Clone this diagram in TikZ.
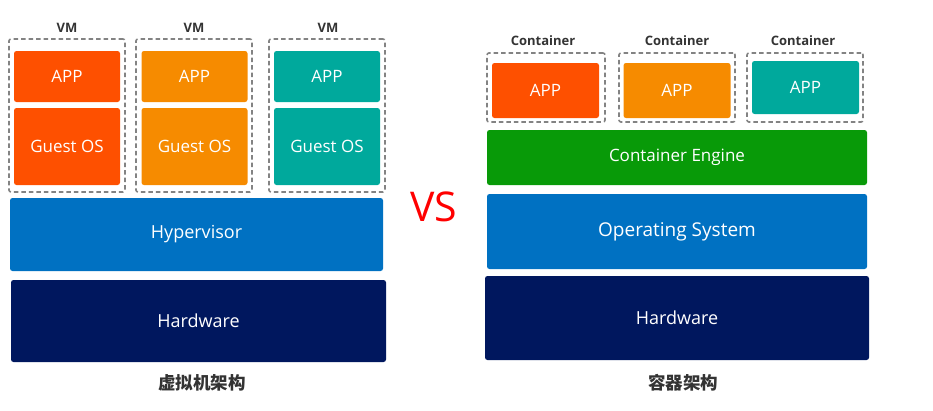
\documentclass[tikz,border=0pt]{standalone}
\usepackage{fontspec}
\setmainfont{Open Sans}
\newfontfamily\cjk{Noto Sans CJK SC}
\usetikzlibrary{positioning}

\definecolor{appred}{HTML}{FE5000}
\definecolor{apporange}{HTML}{F68B00}
\definecolor{appteal}{HTML}{00A99C}
\definecolor{layerblue}{HTML}{0071C2}
\definecolor{layernavy}{HTML}{00175E}
\definecolor{enginegreen}{HTML}{089A08}
\definecolor{dashgray}{HTML}{838383}
\definecolor{tagtext}{HTML}{333333}

\begin{document}
\begin{tikzpicture}[x=1pt,y=-1pt,
  block/.style={rounded corners=2.5pt,inner sep=0pt,text=white,
    font=\fontsize{17}{19}\selectfont},
  layer/.style={block,font=\fontsize{18}{20}\selectfont},
  holder/.style={draw=dashgray,line width=1.6pt,dash pattern=on 4.5pt off 3pt,
    rounded corners=2pt,inner sep=0pt},
  tag/.style={text=tagtext,font=\bfseries\fontsize{13}{15}\selectfont},
  caption/.style={text=tagtext,font=\cjk\bfseries\fontsize{17.5}{19}\selectfont}]
  \useasboundingbox (0,0) rectangle (933,410);

  % virtual machines
  \path
  node[holder,minimum width=116pt,minimum height=153pt] (vm1) at (67,115.5) {}
  node[holder,minimum width=116pt,minimum height=153pt] (vm2) at (194,115.5) {}
  node[holder,minimum width=116pt,minimum height=153pt] (vm3) at (327,115.5) {}
  node[tag] (vm1tag) at (67,28) {VM}
  node[tag] (vm2tag) at (194,28) {VM}
  node[tag] (vm3tag) at (328,28) {VM}
  node[block,fill=appred,minimum width=106pt,minimum height=51pt] (app1) at (67,76.5) {APP}
  node[block,fill=apporange,minimum width=106pt,minimum height=51pt] (app2) at (194.5,76.5) {APP}
  node[block,fill=appteal,minimum width=106pt,minimum height=51pt] (app3) at (327,76.5) {APP}
  node[block,fill=appred,minimum width=106pt,minimum height=77pt] (os1) at (67,146.5) {Guest OS}
  node[block,fill=apporange,minimum width=106pt,minimum height=77pt] (os2) at (194.5,146.5) {Guest OS}
  node[block,fill=appteal,minimum width=106pt,minimum height=77pt] (os3) at (327,146.5) {Guest OS}
  node[layer,fill=layerblue,minimum width=373pt,minimum height=73pt] (hyper) at (196.5,234.5) {Hypervisor}
  node[layer,fill=layernavy,minimum width=375pt,minimum height=82pt] (hwleft) at (198.5,321) {Hardware}
  node[caption] (vmcap) at (202,383) {虚拟机架构}
  ;

  \node[text=red,font=\fontsize{41}{43}\selectfont] (vs) at (434,207) {VS};

  % containers
  \path
  node[holder,minimum width=118pt,minimum height=69pt] (ct1) at (546,87.5) {}
  node[holder,minimum width=116pt,minimum height=69pt] (ct2) at (677,87.5) {}
  node[holder,minimum width=116pt,minimum height=69pt] (ct3) at (805,87.5) {}
  node[tag] (ct1tag) at (543,41) {Container}
  node[tag] (ct2tag) at (677,41) {Container}
  node[tag] (ct3tag) at (803,41) {Container}
  node[block,fill=appred,minimum width=107pt,minimum height=55pt] (capp1) at (545.5,90.5) {APP}
  node[block,fill=apporange,minimum width=107pt,minimum height=55pt] (capp2) at (677,90.5) {APP}
  node[block,fill=appteal,minimum width=107pt,minimum height=53pt] (capp3) at (805.5,87.5) {APP}
  node[block,fill=enginegreen,minimum width=380pt,minimum height=55pt] (engine) at (677,157.5) {Container Engine}
  node[layer,fill=layerblue,minimum width=380pt,minimum height=75pt,
    font=\fontsize{19}{21}\selectfont] (hostos) at (677,231.5) {Operating System}
  node[layer,fill=layernavy,minimum width=384pt,minimum height=84pt] (hwright) at (677,318) {Hardware}
  node[caption] (ctcap) at (683,383) {容器架构}
  ;
\end{tikzpicture}
\end{document}
